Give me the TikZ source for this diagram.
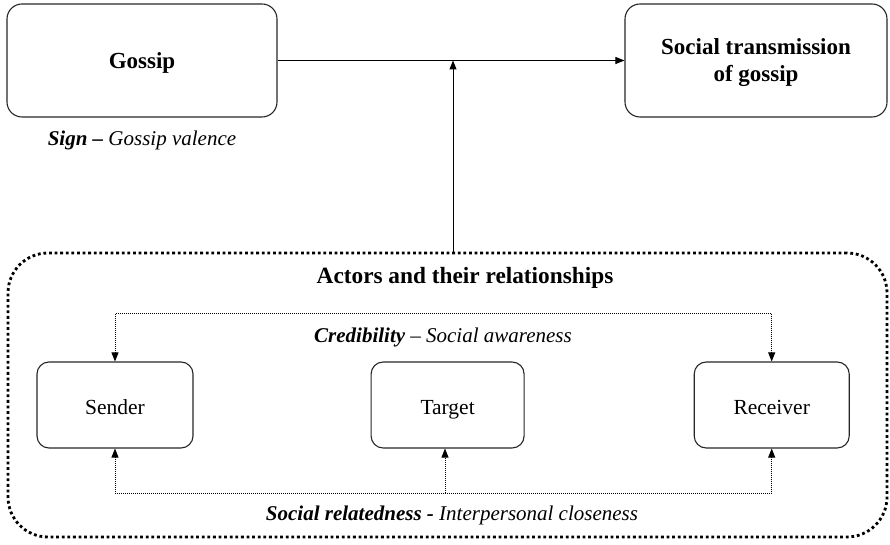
\documentclass[tikz,border=0pt]{standalone}
\usepackage{fontspec}
\setmainfont{Liberation Serif}
\usetikzlibrary{positioning,arrows.meta}

\begin{document}
\begin{tikzpicture}[x=1pt,y=1pt]
          \tikzset{BoxStyle/.style = {draw=black!85, line width=1.1pt, rounded corners=15pt, inner sep=0pt, align=center, minimum height=113pt, text depth=0pt, font=\fontsize{23}{27}\selectfont\bfseries}}
          \tikzset{ActorStyle/.style = {draw=black!85, line width=1.1pt, rounded corners=12pt, inner sep=0pt, minimum height=86pt, text height=20pt, text depth=0pt, font=\fontsize{21.5}{26}\selectfont}}
          \tikzset{LabelStyle/.style = {inner sep=0pt, font=\fontsize{21}{25}\selectfont\itshape}}
          \tikzset{EdgeStyle/.style = {line width=1pt, -{Triangle[length=9pt,width=7pt]}}}
          \tikzset{DotEdge/.style = {line width=0.8pt, dash pattern=on 1pt off 1pt}}
          \tikzset{DotTip/.style = {{Triangle[length=9pt,width=7pt]}-{Triangle[length=9pt,width=7pt]}}}

          \useasboundingbox (0,0) rectangle (890,545);

          \node[BoxStyle, minimum width=270pt] (gossip) at (142,484.5) {Gossip};
          \node[BoxStyle, minimum width=262pt] (social) at (756,484.5) {Social transmission\\of gossip};
          \node[LabelStyle, below=13pt of gossip] (sign) {\textbf{Sign –} Gossip valence};

          \node[draw, line width=2.8pt, dash pattern=on 2.8pt off 2.8pt, rounded corners=40pt,
                minimum width=879pt, minimum height=284pt] (actors) at (447.5,150) {};
          \node[inner sep=0pt, font=\fontsize{23.3}{27}\selectfont\bfseries] (title) at (465,267.3) {Actors and their relationships};

          \node[ActorStyle, minimum width=156pt] (sender) at (115,140) {Sender};
          \node[ActorStyle, minimum width=153pt, right=177pt of sender] (target) {Target};
          \node[ActorStyle, minimum width=155pt, right=169pt of target] (receiver) {Receiver};

          \node[LabelStyle] (cred) at (443,208) {\textbf{Credibility} – Social awareness};
          \node[LabelStyle] (rel) at (452,30) {\textbf{Social relatedness -} Interpersonal closeness};

          \coordinate (mod) at (453,484.5);
          \coordinate (low) at (445,52);

          \draw[EdgeStyle] (gossip.east) -- (social.west);
          \draw[EdgeStyle] (mod |- actors.north) -- (mod);

          \draw[DotEdge, DotTip] (sender.north) -- ++(0,48) -| (receiver.north);
          \draw[DotEdge, DotTip] (sender.south) -- ++(0,-45) -| (receiver.south);
          \draw[DotEdge, -{Triangle[length=9pt,width=7pt]}] (low) -- (low |- target.south);
        \end{tikzpicture}
\end{document}
